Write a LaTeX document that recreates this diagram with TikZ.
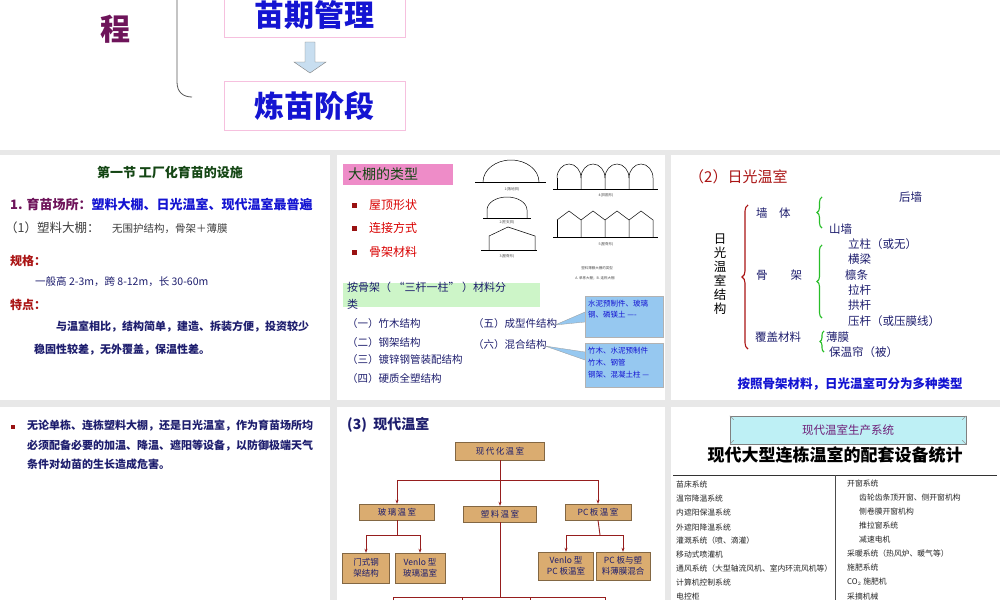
\documentclass[tikz,border=0pt]{standalone}
\usepackage{fontspec}
\setmainfont{Noto Sans CJK SC}
\usetikzlibrary{decorations.pathreplacing,arrows.meta}
\definecolor{bg}{RGB}{232,232,232}
\definecolor{navy}{RGB}{30,30,110}
\definecolor{dred}{RGB}{170,20,20}
\definecolor{bblue}{RGB}{20,20,210}
\definecolor{wood}{RGB}{218,172,112}
\definecolor{calloutc}{RGB}{150,200,240}
\definecolor{gbox}{RGB}{205,245,200}
\definecolor{pbox}{RGB}{240,150,200}
\definecolor{bpurp}{RGB}{110,20,90}
\definecolor{dgreen}{RGB}{20,70,20}
\tikzset{
 fs/.style={font=\fontsize{#1}{#1}\selectfont},
 lt/.style={anchor=west,inner sep=0pt},
 woodbox/.style={fill=wood,draw=wood!60!black,inner sep=2pt,text=navy,font=\fontsize{8.5}{11}\selectfont,align=center},
 wline/.style={draw={rgb,255:red,150;green,30;blue,30},line width=0.9pt},
 warr/.style={wline,-{Stealth[length=4pt]}},
 gb/.style={draw={rgb,255:red,40;green,190;blue,40},line width=1.1pt,decorate,decoration={brace,amplitude=5pt}},
 shape1/.style={line width=0.5pt},
 captxt/.style={fs=3.5,text=black!70,inner sep=0pt},
}
\begin{document}
\begin{tikzpicture}[x=1pt,y=-1pt]
\fill[bg] (0,0) rectangle (1000,600);
\useasboundingbox (0,0) rectangle (1000,600);
\fill[white] (0,0) rectangle (1000,150);
\fill[white] (0,155) rectangle (330,400);
\fill[white] (337,155) rectangle (665,400);
\fill[white] (671,155) rectangle (1000,400);
\fill[white] (0,407) rectangle (330,600);
\fill[white] (337,407) rectangle (665,600);
\fill[white] (671,407) rectangle (1000,600);
% top
\node[text=bpurp,inner sep=0pt] (cheng) at (115,29) {\fontsize{30}{30}\selectfont\bfseries 程};
\draw[black!65,line width=0.8pt] (177,0) -- (177,82) .. controls (177,92) and (183,97) .. (192,97);
\node[draw=pbox!60,minimum width=181pt,minimum height=40pt,anchor=south] (mq) at (314.5,37) {};
\node[text=bblue,inner sep=0pt] (mqt) at (314.5,15) {\fontsize{30}{30}\selectfont\bfseries 苗期管理};
\node[draw=pbox!60,minimum width=181pt,minimum height=49pt,text=bblue] (lm) at (314.5,106) {\fontsize{30}{30}\selectfont\bfseries 炼苗阶段};
\draw[fill={rgb,255:red,200;green,222;blue,240},draw=black!50] (305,42) -- (315,42) -- (315,62) -- (326,62) -- (310,73) -- (294,62) -- (305,62) -- cycle;
% panel 1
\node[text=dgreen,inner sep=0pt] (t1) at (170,172) {\fontsize{13}{13}\selectfont\bfseries 第一节\ 工厂化育苗的设施};
\node[lt] (p1a) at (10,205) {\fontsize{13}{13}\selectfont\bfseries\color{bpurp}1. 育苗场所：\color{bblue}塑料大棚、日光温室、现代温室最普遍};
\node[lt,text=black!75] (p1b) at (5,228) {\fontsize{12.5}{13}\selectfont （1）塑料大棚：\quad {\fontsize{10.5}{11}\selectfont 无围护结构，骨架＋薄膜}};
\node[lt,text=dred] (p1c) at (10,261) {\fontsize{12}{12}\selectfont\bfseries 规格：};
\node[lt,text=navy] (p1d) at (35,282) {\fontsize{10.5}{11}\selectfont 一般高 2-3m，跨 8-12m，长 30-60m};
\node[lt,text=dred] (p1e) at (10,305) {\fontsize{12}{12}\selectfont\bfseries 特点：};
\node[lt,text=navy] (p1f) at (56,327) {\fontsize{11}{11}\selectfont\bfseries 与温室相比，结构简单，建造、拆装方便，投资较少};
\node[lt,text=navy] (p1g) at (34,350) {\fontsize{11}{11}\selectfont\bfseries 稳固性较差，无外覆盖，保温性差。};
% panel 2
\node[fill={rgb,255:red,238;green,140;blue,200},minimum width=110pt,minimum height=21pt,anchor=north west] (dp) at (343,164) {};
\node[lt,text=dgreen] (dpt) at (348,174.5) {\fontsize{14}{14}\selectfont 大棚的类型};
\foreach \yy/\tt/\nm in {205/屋顶形状/b1,228/连接方式/b2,252/骨架材料/b3}{
 \fill[dred!90!black] (352,\yy-2.5) rectangle +(5,5);
 \node[lt,text=red!85!black] (\nm) at (369,\yy) {\fontsize{12}{12}\selectfont \tt};
}
% drawings
\draw[shape1] (475,182) -- (546,182);
\draw[shape1] (483,182) arc[start angle=180,end angle=360,x radius=28,y radius=22];
\node[captxt] (c1) at (512,189) {1(落地拱)};
\draw[shape1] (483,218) -- (531,218);
\draw[shape1] (487,218) -- (487,210) arc[start angle=180,end angle=360,x radius=20,y radius=13] -- (527,218);
\node[captxt] (c2) at (507,222) {2(柱支拱)};
\draw[shape1] (481,250) -- (537,250);
\draw[shape1] (489,250) -- (489,236) -- (508,227) -- (535,236) -- (535,250);
\node[captxt] (c3) at (507,256) {3(屋脊形)};
\draw[shape1] (553,189) -- (658,189);
\draw[shape1] (557,189) -- (557,178);
\foreach \i in {0,1,2,3}{
 \draw[shape1] (557+24*\i,178) arc[start angle=180,end angle=360,x radius=12,y radius=14] -- ++(0,11);
}
\node[captxt] (c4) at (606,195) {4(拱圆形)};
\draw[shape1] (553,237) -- (658,237);
\draw[shape1] (557,237) -- (557,220);
\foreach \i in {0,1,2,3}{
 \draw[shape1] (557+24*\i,220) -- (569+24*\i,211) -- (581+24*\i,220) -- ++(0,17);
}
\node[captxt] (c5) at (606,244) {5(屋脊形)};
\node[captxt] (c6) at (597,268) {塑料薄膜大棚的类型};
\node[captxt] (c7) at (595,278) {A. 单栋大棚；B. 连栋大棚};
\node[fill=gbox,minimum width=197pt,minimum height=24pt,anchor=north west] (gbx) at (343,283) {};
\node[lt,text=navy,align=left,font=\fontsize{11}{17}\selectfont] (gbt) at (347,296) {按骨架（\ “三杆一柱”\ ）材料分\\类};
\node[lt,text=navy] (l1) at (347,324) {\fontsize{10.5}{11}\selectfont （一）竹木结构};
\node[lt,text=navy] (l2) at (347,343) {\fontsize{10.5}{11}\selectfont （二）钢架结构};
\node[lt,text=navy] (l3) at (347,360) {\fontsize{10.5}{11}\selectfont （三）镀锌钢管装配结构};
\node[lt,text=navy] (l4) at (347,379) {\fontsize{10.5}{11}\selectfont （四）硬质全塑结构};
\node[lt,text=navy] (l5) at (473,324) {\fontsize{10.5}{11}\selectfont （五）成型件结构};
\node[lt,text=navy] (l6) at (473,345) {\fontsize{10.5}{11}\selectfont （六）混合结构};
\fill[calloutc] (585,312) -- (555,325) -- (585,322) -- cycle;
\fill[calloutc] (585,352) -- (545,346) -- (585,360) -- cycle;
\draw[black!40,line width=0.3pt] (585,312) -- (555,325) -- (585,322);
\draw[black!40,line width=0.3pt] (585,352) -- (545,346) -- (585,360);
\node[fill=calloutc,draw=black!30,minimum width=78pt,minimum height=41pt,anchor=north west] (cb1) at (585,296) {};
\node[anchor=north west,text=bblue,align=left,inner sep=0pt,font=\fontsize{7.5}{11}\selectfont] (cb1t) at (588,300) {水泥预制件、玻璃\\钢、磷镁土 ----};
\node[fill=calloutc,draw=black!30,minimum width=78pt,minimum height=44pt,anchor=north west] (cb2) at (585,343) {};
\node[anchor=north west,text=bblue,align=left,inner sep=0pt,font=\fontsize{7.5}{12}\selectfont] (cb2t) at (588,347) {竹木、水泥预制件\\竹木、钢管\\钢架、混凝土柱 ---};
% panel 3
\node[lt,text=dred] (rg) at (689,177) {\fontsize{15}{15}\selectfont （2）日光温室};
\node[text=black,align=center,inner sep=0pt,font=\fontsize{12.5}{14}\selectfont] (vt) at (720,274) {日\\光\\温\\室\\结\\构};
\draw[dred,line width=1.1pt,decorate,decoration={brace,amplitude=6pt}] (748,349) -- (748,205);
\node[lt,text=navy] (qt) at (756,213) {\fontsize{11.5}{12}\selectfont 墙\quad 体};
\node[lt,text=navy] (gj) at (756,275) {\fontsize{11.5}{12}\selectfont 骨\qquad 架};
\node[lt,text=navy] (fg) at (755,337) {\fontsize{11.5}{12}\selectfont 覆盖材料};
\draw[gb] (822,228) -- (822,197);
\node[lt,text=navy] (hq) at (899,197) {\fontsize{11.5}{12}\selectfont 后墙};
\node[lt,text=navy] (sq) at (829,229) {\fontsize{11.5}{12}\selectfont 山墙};
\draw[gb] (822,318) -- (822,245);
\node[lt,text=navy] (g1) at (848,244) {\fontsize{11.5}{12}\selectfont 立柱（或无）};
\node[lt,text=navy] (g2) at (848,259) {\fontsize{11.5}{12}\selectfont 横梁};
\node[lt,text=navy] (g3) at (845,275) {\fontsize{11.5}{12}\selectfont 檩条};
\node[lt,text=navy] (g4) at (848,290) {\fontsize{11.5}{12}\selectfont 拉杆};
\node[lt,text=navy] (g5) at (848,305) {\fontsize{11.5}{12}\selectfont 拱杆};
\node[lt,text=navy] (g6) at (848,321) {\fontsize{11.5}{12}\selectfont 压杆（或压膜线）};
\draw[gb,decoration={brace,amplitude=4pt}] (824,352) -- (824,331);
\node[lt,text=navy] (f1) at (826,337) {\fontsize{11.5}{12}\selectfont 薄膜};
\node[lt,text=navy] (f2) at (829,352) {\fontsize{11.5}{12}\selectfont 保温帘（被）};
\node[text=bblue,inner sep=0pt] (note3) at (850,384) {\fontsize{12.5}{13}\selectfont\bfseries 按照骨架材料，日光温室可分为多种类型};
% panel 4
\fill[dred!90!black] (11,425) rectangle +(4,4);
\node[anchor=north west,text=navy,align=left,inner sep=0pt,font=\fontsize{11}{19.5}\selectfont\bfseries] (p4) at (27,420) {无论单栋、连栋塑料大棚，还是日光温室，作为育苗场所均\\必须配备必要的加温、降温、遮阳等设备，以防御极端天气\\条件对幼苗的生长造成危害。};
% panel 5
\node[lt,text=navy] (p5t) at (347,425) {\fontsize{14}{14}\selectfont\bfseries (3)\ \ 现代温室};
\node[woodbox,minimum width=89pt,minimum height=18pt] (xd) at (500,451) {现\,代\,化\,温\,室};
\node[woodbox,minimum width=75pt,minimum height=16pt] (bl) at (397,512) {玻\,璃\,温\,室};
\node[woodbox,minimum width=73pt,minimum height=16pt] (sl) at (500,514) {塑\,料\,温\,室};
\node[woodbox,minimum width=66pt,minimum height=16pt] (pc) at (598,512) {\textit{PC}\,板\,温\,室};
\node[woodbox,minimum width=47pt,minimum height=30pt] (mz) at (366,568) {门式钢\\架结构};
\node[woodbox,minimum width=50pt,minimum height=30pt] (vl) at (420,568) {Venlo 型\\玻璃温室};
\node[woodbox,minimum width=55pt,minimum height=28pt] (vp) at (566,566) {\textit{Venlo} 型\\\textit{PC} 板温室};
\node[woodbox,minimum width=54pt,minimum height=28pt] (pp) at (623,566) {\textit{PC} 板与塑\\料薄膜混合};
\coordinate (j1) at (500,480);
\draw[wline] (xd.south) -- (j1);
\draw[warr] (j1) -| (bl.north);
\draw[warr] (j1) -- (sl.north);
\draw[warr] (j1) -| (pc.north);
\coordinate (j2) at (397,535);
\draw[wline] (bl.south) -- (j2);
\draw[warr] (j2) -| (mz.north);
\draw[warr] (j2) -| (vl.north);
\coordinate (j3) at (600,535);
\draw[wline] (pc.south) -- (j3);
\draw[warr] (j3) -| (vp.north);
\draw[warr] (j3) -| (pp.north);
\coordinate (j4) at (500,597);
\coordinate (k1) at (393,600);
\coordinate (k2) at (605,600);
\draw[wline] (sl.south) -- (j4);
\draw[wline] (k1) -- (393,597) -- (605,597) -- (k2);
\draw[wline] (462,597) -- (462,600) (530,597) -- (530,600);
% panel 6
\node[fill={rgb,255:red,190;green,240;blue,245},draw=black!50,minimum width=236pt,minimum height=28pt,text={rgb,255:red,110;green,30;blue,120}] (sys) at (848,430) {\fontsize{11.5}{12}\selectfont 现代温室生产系统};
\draw[black!40] (sys.north west) -- ++(4,4) (sys.north east) -- ++(-4,4) (sys.south west) -- ++(4,-4) (sys.south east) -- ++(-4,-4);
\node[inner sep=0pt] (big) at (835,455) {\fontsize{17}{17}\selectfont\bfseries 现代大型连栋温室的配套设备统计};
\draw[black!80,line width=0.8pt] (673,475) -- (997,475);
\draw[black!70,line width=0.6pt] (835,475) -- (835,600);
\foreach \yy/\tt [count=\i] in {485/苗床系统,499/温帘降温系统,513/内遮阳保温系统,527/外遮阳降温系统,541/灌溉系统（喷、滴灌）,555/移动式喷灌机,569/通风系统（大型轴流风机、室内环流风机等）,583/计算机控制系统,597/电控柜}{
 \node[lt,text=black!85] (L\i) at (676,\yy) {\fontsize{7.8}{8}\selectfont \tt};
}
\foreach \xx/\yy/\tt [count=\i] in {847/484/开窗系统,859/498/齿轮齿条顶开窗、侧开窗机构,859/512/侧卷膜开窗机构,859/526/推拉窗系统,859/540/减速电机,847/554/采暖系统（热风炉、暖气等）,847/568/施肥系统,847/582/CO$_2$ 施肥机,847/596/采摘机械}{
 \node[lt,text=black!85] (R\i) at (\xx,\yy) {\fontsize{7.8}{8}\selectfont \tt};
}
\end{tikzpicture}
\end{document}
